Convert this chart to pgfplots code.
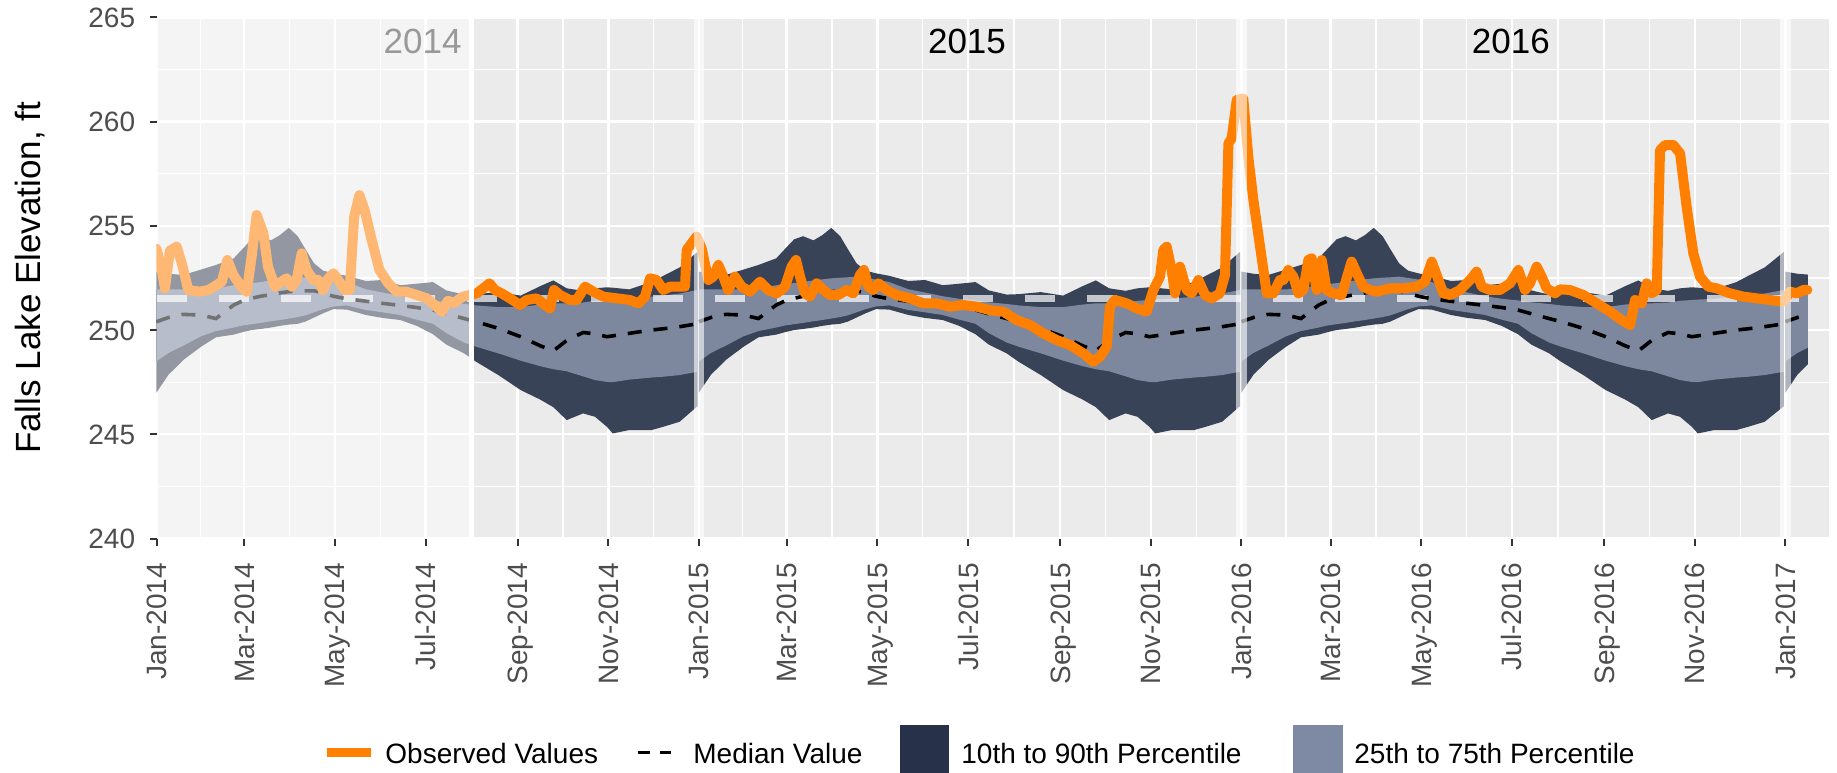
\documentclass[border=0pt]{standalone}
\usepackage{pgfplots}
\pgfplotsset{compat=1.18}
\usepackage{pgfplotstable}
\usepgfplotslibrary{fillbetween}
\usepackage{fontspec}
\setmainfont{Liberation Sans}
\definecolor{bgpanel}{HTML}{EBEBEB}
\definecolor{darkrib}{HTML}{394357}
\definecolor{lightrib}{HTML}{7D889F}
\definecolor{obs}{HTML}{FF7F00}
\definecolor{tickgrey}{HTML}{4D4D4D}
\definecolor{tickmark}{HTML}{333333}
\definecolor{legdark}{HTML}{27324A}
\definecolor{leglight}{HTML}{7E8AA3}
\definecolor{yeargrey}{HTML}{999999}

% climatology percentiles, 2014 segment (x = day since 1 Jan 2014)
\pgfplotstableread{
x p10 p25 p50 p75 p90
0 247.00 248.50 250.40 251.95 252.80
8 247.85 248.90 250.60 251.95 252.70
18 248.56 249.25 250.75 251.95 252.64
30 249.20 249.70 250.72 251.95 252.90
40 249.65 249.95 250.55 252.00 253.12
52 249.78 250.12 251.20 252.15 253.44
58 249.90 250.22 251.40 252.20 253.90
64 250.00 250.28 251.52 252.25 254.35
70 250.05 250.34 251.62 252.30 254.50
77 250.12 250.42 251.70 252.38 254.30
83 250.20 250.48 251.78 252.43 254.55
89 250.26 250.55 251.84 252.48 254.90
95 250.30 250.62 251.87 252.51 254.50
100 250.40 250.70 251.88 252.53 253.90
106 250.60 250.85 251.88 252.56 253.20
112 250.80 251.00 251.78 252.50 252.85
119 251.00 251.13 251.62 252.42 252.72
128 250.98 251.18 251.50 252.30 252.60
141 250.72 250.96 251.38 251.95 252.35
152 250.58 250.85 251.28 251.80 252.40
164 250.48 250.72 251.18 251.62 252.15
175 250.20 250.50 251.08 251.50 252.22
186 249.80 250.30 250.96 251.42 252.30
195 249.30 249.85 250.78 251.33 251.90
207 248.88 249.40 250.55 251.25 251.70
215 248.48 249.20 250.40 251.18 251.72
230 247.84 248.88 250.08 251.10 251.82
245 247.12 248.53 249.68 251.10 251.65
258 246.67 248.27 249.25 251.22 252.10
267 246.30 248.12 249.00 251.28 252.38
276 245.68 248.02 249.50 251.28 252.00
287 246.00 247.78 249.88 251.32 251.88
295 245.84 247.60 249.82 251.40 252.00
303 245.36 247.51 249.68 251.44 252.05
307 245.04 247.50 249.72 251.46 252.03
318 245.20 247.62 249.84 251.50 251.95
333 245.20 247.72 250.00 251.60 252.30
341 245.36 247.76 250.06 251.66 252.60
352 245.60 247.84 250.16 251.75 253.00
364 246.35 248.00 250.30 251.92 253.75
}\climA

% 2015 segment
\pgfplotstableread{
x p10 p25 p50 p75 p90
365 247.00 248.50 250.40 251.95 252.80
373 247.85 248.90 250.60 251.95 252.70
383 248.56 249.25 250.75 251.95 252.64
395 249.20 249.70 250.72 251.95 252.90
405 249.65 249.95 250.55 252.00 253.12
417 249.78 250.12 251.20 252.15 253.44
423 249.90 250.22 251.40 252.20 253.90
429 250.00 250.28 251.52 252.25 254.35
435 250.05 250.34 251.62 252.30 254.50
442 250.12 250.42 251.70 252.38 254.30
448 250.20 250.48 251.78 252.43 254.55
454 250.26 250.55 251.84 252.48 254.90
460 250.30 250.62 251.87 252.51 254.50
465 250.40 250.70 251.88 252.53 253.90
471 250.60 250.85 251.88 252.56 253.20
477 250.80 251.00 251.78 252.50 252.85
484 251.00 251.13 251.62 252.42 252.72
493 250.98 251.18 251.50 252.30 252.60
506 250.72 250.96 251.38 251.95 252.35
517 250.58 250.85 251.28 251.80 252.40
529 250.48 250.72 251.18 251.62 252.15
540 250.20 250.50 251.08 251.50 252.22
551 249.80 250.30 250.96 251.42 252.30
560 249.30 249.85 250.78 251.33 251.90
572 248.88 249.40 250.55 251.25 251.70
580 248.48 249.20 250.40 251.18 251.72
595 247.84 248.88 250.08 251.10 251.82
610 247.12 248.53 249.68 251.10 251.65
623 246.67 248.27 249.25 251.22 252.10
632 246.30 248.12 249.00 251.28 252.38
641 245.68 248.02 249.50 251.28 252.00
652 246.00 247.78 249.88 251.32 251.88
660 245.84 247.60 249.82 251.40 252.00
668 245.36 247.51 249.68 251.44 252.05
672 245.04 247.50 249.72 251.46 252.03
683 245.20 247.62 249.84 251.50 251.95
698 245.20 247.72 250.00 251.60 252.30
706 245.36 247.76 250.06 251.66 252.60
717 245.60 247.84 250.16 251.75 253.00
729 246.35 248.00 250.30 251.92 253.75
}\climB

% 2016 segment
\pgfplotstableread{
x p10 p25 p50 p75 p90
730 247.00 248.50 250.40 251.95 252.80
738 247.85 248.90 250.60 251.95 252.70
748 248.56 249.25 250.75 251.95 252.64
760 249.20 249.70 250.72 251.95 252.90
770 249.65 249.95 250.55 252.00 253.12
782 249.78 250.12 251.20 252.15 253.44
788 249.90 250.22 251.40 252.20 253.90
794 250.00 250.28 251.52 252.25 254.35
800 250.05 250.34 251.62 252.30 254.50
807 250.12 250.42 251.70 252.38 254.30
813 250.20 250.48 251.78 252.43 254.55
819 250.26 250.55 251.84 252.48 254.90
825 250.30 250.62 251.87 252.51 254.50
830 250.40 250.70 251.88 252.53 253.90
836 250.60 250.85 251.88 252.56 253.20
842 250.80 251.00 251.78 252.50 252.85
849 251.00 251.13 251.62 252.42 252.72
858 250.98 251.18 251.50 252.30 252.60
871 250.72 250.96 251.38 251.95 252.35
882 250.58 250.85 251.28 251.80 252.40
894 250.48 250.72 251.18 251.62 252.15
905 250.20 250.50 251.08 251.50 252.22
916 249.80 250.30 250.96 251.42 252.30
925 249.30 249.85 250.78 251.33 251.90
937 248.88 249.40 250.55 251.25 251.70
945 248.48 249.20 250.40 251.18 251.72
960 247.84 248.88 250.08 251.10 251.82
975 247.12 248.53 249.68 251.10 251.65
988 246.67 248.27 249.25 251.22 252.10
997 246.30 248.12 249.00 251.28 252.38
1006 245.68 248.02 249.50 251.28 252.00
1017 246.00 247.78 249.88 251.32 251.88
1025 245.84 247.60 249.82 251.40 252.00
1033 245.36 247.51 249.68 251.44 252.05
1037 245.04 247.50 249.72 251.46 252.03
1048 245.20 247.62 249.84 251.50 251.95
1063 245.20 247.72 250.00 251.60 252.30
1071 245.36 247.76 250.06 251.66 252.60
1082 245.60 247.84 250.16 251.75 253.00
1095 246.35 248.00 250.30 251.92 253.75
}\climC

% 2017 segment
\pgfplotstableread{
x p10 p25 p50 p75 p90
1096 247.00 248.50 250.40 251.95 252.80
1104 247.85 248.90 250.60 251.95 252.70
1111 248.35 249.15 250.70 251.95 252.66
}\climD

% observed lake elevation
\pgfplotstableread{
x y
0 253.9
3.5 252.9
5.7 252.0
9 253.8
13.6 254.0
17 253.2
21.4 251.92
29 251.84
35 251.92
40.5 252.16
44 252.32
47.7 253.36
51.7 252.64
57 252.08
60.7 251.84
64 253.52
67.4 255.52
71.9 254.64
75 253.04
79.7 252.08
84 252.32
87.6 252.48
91 252.08
94.3 252.4
97.7 253.68
101 252.88
105.5 252.4
108.9 252.4
112 251.92
115.6 252.48
119 252.72
122.3 252.4
126.8 251.92
130 251.92
133 255.44
136.5 256.47
140 255.76
144.8 254.32
150 252.88
156 252.24
161.6 251.84
168 251.84
175 251.68
181.8 251.52
188.5 251.12
192 250.88
196 251.4
200 251.3
206 251.6
212 251.7
215.4 251.76
219.9 252.0
224 252.24
227.7 251.92
232.2 251.76
237.8 251.52
244.5 251.2
249 251.44
255.8 251.52
261.4 251.2
264.7 251.04
267.4 251.92
271.5 251.68
278.2 251.44
282.7 251.44
288.3 252.08
293.9 251.84
300.6 251.6
309.6 251.52
318.6 251.44
324.2 251.28
328.7 251.6
332 252.48
336.5 252.4
341 251.92
345.5 252.08
351 252.08
355.6 252.08
356.7 253.84
360 254.16
363.4 254.48
366.8 253.92
371.3 252.4
374.6 252.56
378 253.12
381.4 252.56
384.7 251.92
389.2 252.56
393.7 252.08
399.3 251.84
406 252.32
411.6 251.92
417.3 251.76
422.9 252.08
427.3 253.04
430.3 253.36
433 252.56
436.3 251.76
439.7 251.6
444.2 252.24
448.6 251.92
453.1 251.68
458.7 251.68
464.3 251.92
468.8 251.76
473.3 252.64
476 252.88
478.9 252.08
482.3 251.92
485.7 252.24
491.3 251.92
498 251.68
507 251.52
515.9 251.28
524.9 251.28
533.9 251.12
542.8 251.2
551.8 251.12
560.8 250.95
569.8 250.88
578.7 250.48
587.7 250.24
596.7 249.84
605.7 249.52
614.6 249.28
623.6 248.88
630.3 248.48
634.8 248.72
639.3 249.2
641.5 251.12
644.9 251.44
652.7 251.28
659.5 251.04
666.2 250.88
670.7 251.92
675.2 252.56
677.4 253.84
679.7 254.0
683 252.88
685.3 251.76
688.6 253.04
693.1 251.92
696.5 251.76
701 252.4
705.5 251.68
709.9 251.52
715.5 251.76
718.9 252.64
721.2 258.95
723.4 259.2
726.8 261.03
731.2 261.11
734.6 258.31
738 256.24
742.5 254.0
747 251.76
751.4 251.76
755.9 252.4
758.2 252.4
761.5 252.88
764.9 252.56
768.3 251.76
771.6 251.92
775 253.36
777.2 253.44
780.6 251.92
784 253.36
787.3 251.92
791.8 251.76
797.4 251.68
804.1 253.28
808.6 252.56
812 252.08
816.5 251.92
821 251.84
830 252.0
838.9 252.0
847.9 252.08
853.5 252.32
858 253.28
861.3 252.64
865.8 251.76
870.3 251.68
877 251.92
883.8 252.4
888.2 252.8
891.6 252.08
897.2 251.92
903.9 251.92
910.7 252.24
916.3 252.88
920.8 251.92
924.1 252.24
928.6 253.04
932 252.56
935.3 252.0
941 251.76
944.3 251.95
951 251.92
960 251.68
969 251.28
978 250.88
985.8 250.48
991.4 250.24
994.8 251.44
999.3 251.28
1002.6 252.24
1006 251.76
1009.4 251.92
1011.6 258.63
1015 258.87
1020.6 258.87
1025.1 258.47
1029.5 255.92
1034 253.68
1038.5 252.56
1044.1 252.08
1049.7 252.0
1058.7 251.76
1067.7 251.6
1076.6 251.52
1085.6 251.44
1094.6 251.36
1099.1 251.84
1103.6 251.76
1108 251.92
1110.7 251.92
}\obs

\begin{document}
\begin{tikzpicture}
\begin{axis}[
  at={(0pt,0pt)}, anchor=south west,
  scale only axis, width=836.25pt, height=260.6pt,
  xmin=0, xmax=1125.3, ymin=240, ymax=265,
  set layers,
  axis background/.style={fill=bgpanel},
  axis line style={draw=none},
  xtick={0,59,120,181,243,304,365,424,485,546,608,669,730,790,851,912,974,1035,1096},
  xticklabels={Jan-2014,Mar-2014,May-2014,Jul-2014,Sep-2014,Nov-2014,Jan-2015,Mar-2015,May-2015,Jul-2015,Sep-2015,Nov-2015,Jan-2016,Mar-2016,May-2016,Jul-2016,Sep-2016,Nov-2016,Jan-2017},
  minor xtick={29.5,89.5,150.5,212,273.5,334.5,394.5,454.5,515.5,577,638.5,699.5,760,820.5,881.5,943,1004.5,1065.5},
  ytick={240,245,250,255,260,265},
  minor ytick={242.5,247.5,252.5,257.5,262.5},
  grid=both,
  major grid style={draw=white, line width=1.2pt},
  minor grid style={draw=white, line width=0.6pt},
  tick align=outside,
  xtick pos=bottom, ytick pos=left,
  major tick length=3.5pt, minor tick length=0pt,
  major tick style={draw=tickmark, line width=1pt},
  tick label style={font=\fontsize{14}{16}\selectfont, text=tickgrey},
  xticklabel style={rotate=90, anchor=east, inner sep=0pt, text height=10pt, text depth=0pt},
  yticklabel style={anchor=east, inner sep=0pt, text height=10pt, text depth=0pt},
  xticklabel shift=8.5pt,
  yticklabel shift=7pt,
  /pgf/number format/assume math mode=true,
]
% 2014
\addplot[draw=none, name path=A90] table[x=x,y=p90]{\climA};
\addplot[draw=none, name path=A10] table[x=x,y=p10]{\climA};
\addplot[draw=none, name path=A75] table[x=x,y=p75]{\climA};
\addplot[draw=none, name path=A25] table[x=x,y=p25]{\climA};
\addplot[fill=darkrib, draw=none] fill between[of=A90 and A10];
\addplot[fill=lightrib, draw=none] fill between[of=A75 and A25];
% 2015
\addplot[draw=none, name path=B90] table[x=x,y=p90]{\climB};
\addplot[draw=none, name path=B10] table[x=x,y=p10]{\climB};
\addplot[draw=none, name path=B75] table[x=x,y=p75]{\climB};
\addplot[draw=none, name path=B25] table[x=x,y=p25]{\climB};
\addplot[fill=darkrib, draw=none] fill between[of=B90 and B10];
\addplot[fill=lightrib, draw=none] fill between[of=B75 and B25];
% 2016
\addplot[draw=none, name path=C90] table[x=x,y=p90]{\climC};
\addplot[draw=none, name path=C10] table[x=x,y=p10]{\climC};
\addplot[draw=none, name path=C75] table[x=x,y=p75]{\climC};
\addplot[draw=none, name path=C25] table[x=x,y=p25]{\climC};
\addplot[fill=darkrib, draw=none] fill between[of=C90 and C10];
\addplot[fill=lightrib, draw=none] fill between[of=C75 and C25];
% 2017
\addplot[draw=none, name path=D90] table[x=x,y=p90]{\climD};
\addplot[draw=none, name path=D10] table[x=x,y=p10]{\climD};
\addplot[draw=none, name path=D75] table[x=x,y=p75]{\climD};
\addplot[draw=none, name path=D25] table[x=x,y=p25]{\climD};
\addplot[fill=darkrib, draw=none] fill between[of=D90 and D10];
\addplot[fill=lightrib, draw=none] fill between[of=D75 and D25];
% normal pool guide line
\addplot[draw=white, draw opacity=0.7, line width=3.3pt, dash pattern=on 15pt off 16pt] coordinates {(0,251.5) (1111,251.5)};
% median
\addplot[black, line width=1.8pt, dash pattern=on 7pt off 6pt] table[x=x,y=p50]{\climA};
\addplot[black, line width=1.8pt, dash pattern=on 7pt off 6pt] table[x=x,y=p50]{\climB};
\addplot[black, line width=1.8pt, dash pattern=on 7pt off 6pt] table[x=x,y=p50]{\climC};
\addplot[black, line width=1.8pt, dash pattern=on 7pt off 6pt] table[x=x,y=p50]{\climD};
% observed
\addplot[obs, line width=5pt, line join=round, line cap=round] table[x=x,y=y]{\obs};
% fading of early 2014 and year boundaries
\fill[white, opacity=0.45] (axis cs:0,240) rectangle (axis cs:212,265);
\draw[white, line width=2.4pt] (axis cs:212,240) -- (axis cs:212,265);
\fill[white, opacity=0.6] (axis cs:361.5,240) rectangle (axis cs:368.5,265);
\fill[white, opacity=0.6] (axis cs:726.5,240) rectangle (axis cs:733.5,265);
\fill[white, opacity=0.6] (axis cs:1092.5,240) rectangle (axis cs:1099.5,265);
\end{axis}
% year labels
\node[anchor=base east, inner sep=0pt, text=yeargrey, font=\fontsize{17.5}{20}\selectfont] at (152.75pt,242.45pt) {2014};
\node[anchor=base, inner sep=0pt, font=\fontsize{17.5}{20}\selectfont] at (405.25pt,242.45pt) {2015};
\node[anchor=base, inner sep=0pt, font=\fontsize{17.5}{20}\selectfont] at (677.15pt,242.45pt) {2016};
% y axis title
\node[rotate=90, anchor=center, inner sep=0pt, font=\fontsize{17.5}{20}\selectfont] at (-63pt,130.3pt) {Falls Lake Elevation, ft};
% legend
\draw[obs, line width=4.5pt] (85.25pt,-107pt) -- (107.25pt,-107pt);
\node[anchor=base west, inner sep=0pt, font=\fontsize{14}{16}\selectfont] at (114.25pt,-112.25pt) {Observed Values};
\draw[black, line width=1.6pt] (240.5pt,-107pt) -- (246.75pt,-107pt);
\draw[black, line width=1.6pt] (251.75pt,-107pt) -- (257.25pt,-107pt);
\node[anchor=base west, inner sep=0pt, font=\fontsize{14}{16}\selectfont] at (268.25pt,-112.25pt) {Median Value};
\fill[legdark] (371.75pt,-93.25pt) rectangle (396.25pt,-117pt);
\node[anchor=base west, inner sep=0pt, font=\fontsize{14}{16}\selectfont] at (402.25pt,-112.25pt) {10th to 90th Percentile};
\fill[leglight] (568.25pt,-93.25pt) rectangle (593.25pt,-117pt);
\node[anchor=base west, inner sep=0pt, font=\fontsize{14}{16}\selectfont] at (598.75pt,-112.25pt) {25th to 75th Percentile};
\pgfresetboundingbox
\useasboundingbox (-78.25pt,-116.75pt) rectangle (840.25pt,269.25pt);
\end{tikzpicture}
\end{document}
